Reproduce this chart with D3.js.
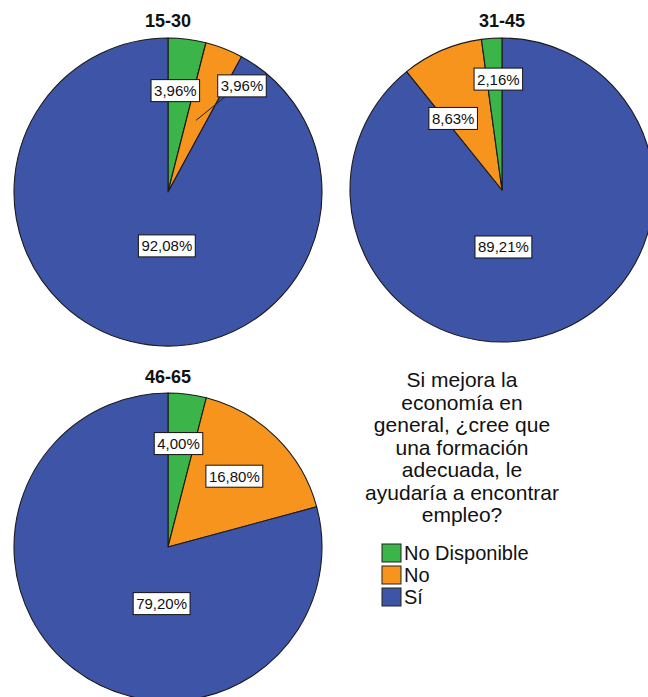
<!DOCTYPE html>
<html>
<head>
<meta charset="utf-8">
<script src="https://cdn.jsdelivr.net/npm/d3@7"></script>
<style>
  html, body { margin: 0; padding: 0; background: #fff; }
  svg { display: block; font-family: Arial, "Liberation Sans", sans-serif; }
</style>
</head>
<body>
<svg id="chart" width="648" height="697"></svg>
<script>
// ---- data ----
const categories = ["No Disponible", "No", "Sí"];
const groups = ["15-30", "31-45", "46-65"];
const valuesNoDisponible = [3.96, 2.16, 4.00];
const valuesNo = [3.96, 8.63, 16.80];
const valuesSi = [92.08, 89.21, 79.20];
const legendTitleLines = ["Si mejora la", "economía en", "general, ¿cree que", "una formación", "adecuada, le", "ayudaría a encontrar", "empleo?"];

// ---- styling / layout ----
const colors = d3.scaleOrdinal().domain(categories).range(["#3bb44a", "#f7941e", "#3e55a7"]);
const layout = [
  { cx: 168, cy: 192, r: 154, order: [0, 1, 2],
    labels: [ {f: 0.66, shift: -3}, {f: 0.84, shift: 13.5, leader: 0.5}, {f: 0.35, shift: -13} ] },
  { cx: 502, cy: 190, r: 152, order: [2, 1, 0],
    labels: [ {f: 0.73, shift: 2}, {f: 0.57, shift: -11}, {f: 0.375, shift: 18} ] },
  { cx: 168, cy: 547, r: 154, order: [0, 1, 2],
    labels: [ {f: 0.675, shift: -1.4}, {f: 0.63, shift: -1.5}, {f: 0.37, shift: -31} ] }
];
const titleY = [27, 27, 383];

const locale = d3.formatLocale({decimal: ",", thousands: ".", grouping: [3], currency: ["", "€"]});
const fmt = v => locale.format(".2f")(v) + "%";

const svg = d3.select("#chart");

groups.forEach((g, gi) => {
  const L = layout[gi];
  const vals = [valuesNoDisponible[gi], valuesNo[gi], valuesSi[gi]];
  const data = L.order.map(i => ({cat: categories[i], idx: i, value: vals[i]}));
  const pie = d3.pie().value(d => d.value).sort(null);
  const arcs = pie(data);
  const arc = d3.arc().innerRadius(0).outerRadius(L.r);
  const gp = svg.append("g").attr("transform", `translate(${L.cx},${L.cy})`);

  gp.selectAll("path.slice").data(arcs).join("path")
    .attr("class", "slice")
    .attr("d", arc)
    .attr("fill", d => colors(d.data.cat))
    .attr("stroke", "#1a1a1a")
    .attr("stroke-width", 1.1)
    .attr("stroke-linejoin", "round");

  svg.append("text")
    .attr("x", L.cx).attr("y", titleY[gi])
    .attr("text-anchor", "middle")
    .attr("font-weight", "bold")
    .attr("font-size", 18)
    .attr("fill", "#111")
    .text(g);

  // labels
  arcs.forEach(a => {
    const cfg = L.labels[a.data.idx];
    const mid = (a.startAngle + a.endAngle) / 2;
    const ang = mid + cfg.shift * Math.PI / 180;
    const [lx, ly] = d3.pointRadial(ang, cfg.f * L.r);
    const lg = gp.append("g");
    if (cfg.leader) {
      const [px, py] = d3.pointRadial(mid, cfg.leader * L.r);
      lg.append("line")
        .attr("x1", px).attr("y1", py)
        .attr("x2", lx - 17).attr("y2", ly + 11)
        .attr("stroke", "#222").attr("stroke-width", 1);
    }
    const t = lg.append("text")
      .attr("x", lx).attr("y", ly)
      .attr("text-anchor", "middle")
      .attr("dominant-baseline", "central")
      .attr("font-size", 15)
      .attr("fill", "#111")
      .text(fmt(a.data.value));
    const bb = t.node().getBBox();
    lg.insert("rect", "text")
      .attr("x", bb.x - 3).attr("y", ly - 11)
      .attr("width", bb.width + 6).attr("height", 22)
      .attr("fill", "#fff")
      .attr("stroke", "#111").attr("stroke-width", 1);
  });
});

// ---- legend ----
const lgX = 462;
const leg = svg.append("g");
leg.selectAll("text.lt").data(legendTitleLines).join("text")
  .attr("class", "lt")
  .attr("x", lgX)
  .attr("y", (d, i) => 387 + i * 22.5)
  .attr("text-anchor", "middle")
  .attr("font-size", 21)
  .attr("fill", "#111")
  .text(d => d);

const items = leg.selectAll("g.item").data(categories).join("g")
  .attr("class", "item")
  .attr("transform", (d, i) => `translate(382,${544 + i * 22})`);
items.append("rect")
  .attr("width", 19).attr("height", 18)
  .attr("fill", d => colors(d))
  .attr("stroke", "#222").attr("stroke-width", 1);
items.append("text")
  .attr("x", 22).attr("y", 16)
  .attr("font-size", 20)
  .attr("fill", "#111")
  .text(d => d);
</script>
</body>
</html>
